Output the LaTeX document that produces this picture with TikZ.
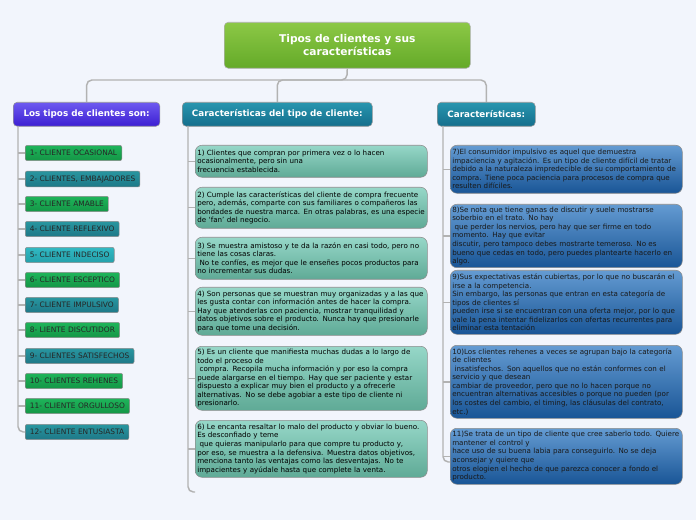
\documentclass[tikz,border=0pt]{standalone}
\usepackage{fontspec}
\setmainfont{DejaVu Sans}
\hyphenpenalty=10000
\exhyphenpenalty=10000
\begin{document}
\begin{tikzpicture}[x=0.75pt,y=-0.75pt,
 conn/.style={draw=black!30,line width=1.1pt,rounded corners=4pt},
 hdr/.style={draw=black!40,rounded corners=3pt,text=white,font=\bfseries\fontsize{6.6pt}{9pt}\selectfont,anchor=north west,minimum height=18pt,inner xsep=6pt},
 item/.style={draw=black!45,rounded corners=1.5pt,font=\fontsize{5.6pt}{6pt}\selectfont,anchor=west,minimum height=11.5pt,inner xsep=3.5pt,text=black!85},
 gi/.style={item,top color={rgb,255:red,30;green,180;blue,90},bottom color={rgb,255:red,20;green,150;blue,70}},
 ti/.style={item,top color={rgb,255:red,40;green,150;blue,160},bottom color={rgb,255:red,30;green,120;blue,135}},
 ci/.style={item,top color={rgb,255:red,50;green,185;blue,195},bottom color={rgb,255:red,35;green,160;blue,170}},
 tb/.style={draw=black!45,rounded corners=5pt,anchor=north west,align=left,text width=171pt,inner xsep=1.5pt,inner ysep=2pt,font=\fontsize{5.35pt}{6.4pt}\selectfont,minimum width=174pt,top color={rgb,255:red,150;green,215;blue,200},bottom color={rgb,255:red,95;green,170;blue,150}},
 bb/.style={tb,top color={rgb,255:red,100;green,155;blue,210},bottom color={rgb,255:red,25;green,85;blue,150},text=black!90}
]
\fill[fill={rgb,255:red,242;green,245;blue,252}] (0,0) rectangle (696,520);
\node[draw=black!30,rounded corners=3pt,anchor=north west,minimum width=184.5pt,minimum height=34.5pt,top color={rgb,255:red,140;green,200;blue,70},bottom color={rgb,255:red,100;green,170;blue,40},text=white,align=center,font=\bfseries\fontsize{8pt}{9.5pt}\selectfont] (root) at (224,22) {Tipos de clientes y sus\\características};
\node[hdr,minimum width=110pt,top color={rgb,255:red,110;green,90;blue,240},bottom color={rgb,255:red,60;green,30;blue,210}] (h1) at (13,102) {Los tipos de clientes son:};
\node[hdr,minimum width=142.5pt,top color={rgb,255:red,40;green,150;blue,175},bottom color={rgb,255:red,20;green,110;blue,140}] (h2) at (182,102) {Características del tipo de cliente:};
\node[hdr,minimum width=73.5pt,top color={rgb,255:red,40;green,150;blue,175},bottom color={rgb,255:red,20;green,110;blue,140}] (h3) at (437,102) {Características:};
\coordinate (bus) at (347,80);
\draw[conn] (root.south) -- (bus) -| (h1.north);
\draw[conn] (bus) -| (h2.north);
\draw[conn] (bus) -| (h3.north);
% items
\node[gi] (i1) at (25,153) {1- CLIENTE OCASIONAL};
\node[ti] (i2) at (25,179) {2- CLIENTES, EMBAJADORES};
\node[gi] (i3) at (25,204) {3- CLIENTE AMABLE};
\node[ti] (i4) at (25,229) {4- CLIENTE REFLEXIVO};
\node[ci] (i5) at (25,255) {5- CLIENTE INDECISO};
\node[gi] (i6) at (25,280) {6- CLIENTE ESCEPTICO};
\node[ti] (i7) at (25,305) {7- CLIENTE IMPULSIVO};
\node[gi] (i8) at (25,330) {8- LIENTE DISCUTIDOR};
\node[ti] (i9) at (25,356) {9- CLIENTES SATISFECHOS};
\node[gi] (i10) at (25,381) {10- CLIENTES REHENES};
\node[gi] (i11) at (25,406) {11- CLIENTE ORGULLOSO};
\node[ti] (i12) at (25,432) {12- CLIENTE ENTUSIASTA};
\coordinate (v1) at (18,126);
\draw[conn] (v1) |- (i12.west);
\foreach \k in {1,...,11}{\draw[conn,rounded corners=0pt] (i\k.west) -- (i\k.west -| v1);}
% column 2
\node[tb,minimum height=24pt] (c1) at (195,145) {1) Clientes que compran por primera vez o lo hacen\\ocasionalmente, pero sin una\\frecuencia establecida.};
\node[tb,minimum height=30.75pt] (c2) at (195,187) {2) Cumple las características del cliente de compra frecuente pero, además, comparte con sus familiares o compañeros las bondades de nuestra marca. En otras palabras, es una especie de ‘fan’ del negocio.};
\node[tb,minimum height=31.5pt] (c3) at (195,237) {3) Se muestra amistoso y te da la razón en casi todo, pero no tiene las cosas claras.\\\ No te confíes, es mejor que le enseñes pocos productos para no incrementar sus dudas.};
\node[tb,minimum height=36pt] (c4) at (195,287) {4) Son personas que se muestran muy organizadas y a las que les gusta contar con información antes de hacer la compra. Hay que atenderlas con paciencia, mostrar tranquilidad y datos objetivos sobre el producto. Nunca hay que presionarle para que tome una decisión.};
\node[tb,minimum height=48pt] (c5) at (195,346) {5) Es un cliente que manifiesta muchas dudas a lo largo de\\todo el proceso de\\\ compra. Recopila mucha información y por eso la compra puede alargarse en el tiempo. Hay que ser paciente y estar dispuesto a explicar muy bien el producto y a ofrecerle alternativas. No se debe agobiar a este tipo de cliente ni presionarlo.};
\node[tb,minimum height=42.75pt] (c6) at (195,420) {6) Le encanta resaltar lo malo del producto y obviar lo bueno.\\Es desconfiado y teme\\\ que quieras manipularlo para que compre tu producto y, por eso, se muestra a la defensiva. Muestra datos objetivos, menciona tanto las ventajas como las desventajas. No te impacientes y ayúdale hasta que complete la venta.};
\coordinate (v2) at (188,126);
\coordinate (e2) at (195,492);
\draw[conn] (v2) |- (e2);
\foreach \k in {1,...,6}{\draw[conn,rounded corners=0pt] (c\k.west) -- (c\k.west -| v2);}
% column 3
\node[bb,minimum height=36pt] (d7) at (450,145) {7)El consumidor impulsivo es aquel que demuestra impaciencia y agitación. Es un tipo de cliente difícil de tratar debido a la naturaleza impredecible de su comportamiento de compra. Tiene poca paciencia para procesos de compra que resulten difíciles.};
\node[bb,minimum height=42pt] (d8) at (450,204) {8)Se nota que tiene ganas de discutir y suele mostrarse\\soberbio en el trato. No hay\\\ que perder los nervios, pero hay que ser firme en todo\\momento. Hay que evitar\\discutir, pero tampoco debes mostrarte temeroso. No es bueno que cedas en todo, pero puedes plantearte hacerlo en algo.};
\node[bb,minimum height=48pt] (d9) at (450,270) {9)Sus expectativas están cubiertas, por lo que no buscarán el irse a la competencia.\\Sin embargo, las personas que entran en esta categoría de\\tipos de clientes sí\\pueden irse si se encuentran con una oferta mejor, por lo que vale la pena intentar fidelizarlos con ofertas recurrentes para eliminar esta tentación};
\node[bb,minimum height=54.75pt] (d10) at (450,345) {10)Los clientes rehenes a veces se agrupan bajo la categoría\\de clientes\\\ insatisfechos. Son aquellos que no están conformes con el\\servicio y que desean\\cambiar de proveedor, pero que no lo hacen porque no encuentran alternativas accesibles o porque no pueden (por los costes del cambio, el timing, las cláusulas del contrato, etc.)};
\node[bb,minimum height=42pt] (d11) at (450,428) {11)Se trata de un tipo de cliente que cree saberlo todo. Quiere\\mantener el control y\\hace uso de su buena labia para conseguirlo. No se deja\\aconsejar y quiere que\\otros elogien el hecho de que parezca conocer a fondo el\\producto.};
\coordinate (v3) at (443,126);
\coordinate (e3) at (450,462);
\draw[conn] (v3) |- (e3);
\foreach \k in {7,...,11}{\draw[conn,rounded corners=0pt] (d\k.west) -- (d\k.west -| v3);}
\end{tikzpicture}
\end{document}
